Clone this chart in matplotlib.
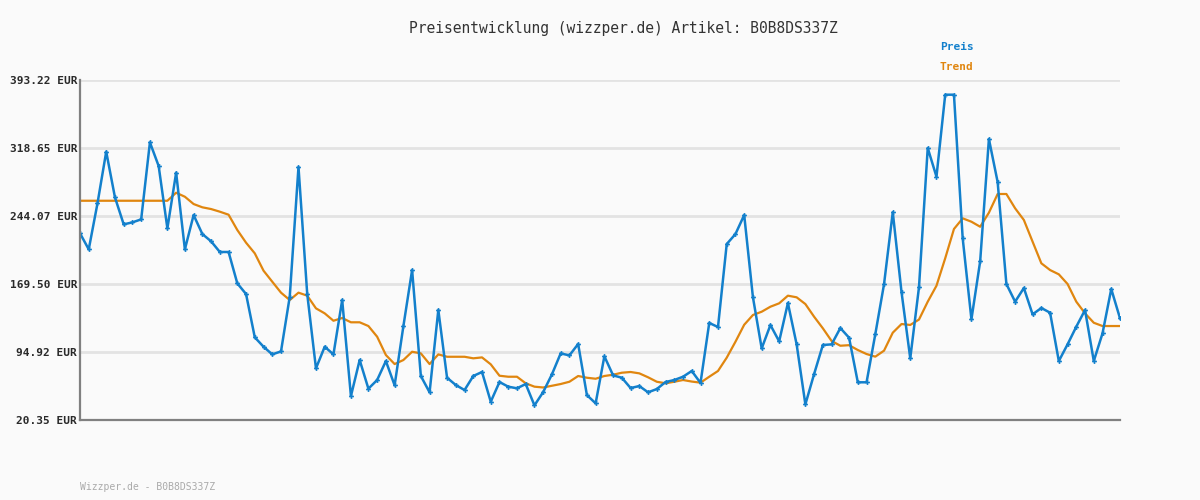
import matplotlib
matplotlib.use("Agg")
import matplotlib.pyplot as plt

title = "Preisentwicklung (wizzper.de) Artikel: B0B8DS337Z"
footer = "Wizzper.de - B0B8DS337Z"
y_ticks = [20.35, 94.92, 169.50, 244.07, 318.65, 393.22]
y_tick_labels = ["20.35 EUR", "94.92 EUR", "169.50 EUR", "244.07 EUR", "318.65 EUR", "393.22 EUR"]

preis = [
    225.1, 207.5, 257.9, 314.6, 264.5, 234.9, 237.1, 240.4, 324.8, 298.9,
    230.5, 291.6, 207.5, 245.1, 224.3, 216.3, 204.6, 204.6, 170.2, 158.5,
    111.0, 100.7, 92.3, 95.6, 155.6, 297.8, 158.5, 77.0, 100.7, 92.3,
    151.9, 46.6, 86.1, 54.7, 64.2, 85.0, 58.4, 123.1, 184.8, 68.6,
    50.7, 141.0, 66.7, 58.7, 53.2, 68.6, 73.0, 40.4, 62.0, 56.9,
    55.1, 59.8, 36.4, 51.0, 70.4, 93.4, 91.2, 103.7, 47.7, 38.6,
    90.2, 69.3, 66.7, 55.4, 57.6, 50.7, 54.3, 62.0, 64.2, 67.8,
    74.1, 61.0, 126.8, 122.3, 213.3, 224.3, 245.1, 154.9, 98.9, 124.5,
    106.6, 148.6, 103.3, 37.5, 70.8, 102.6, 103.3, 121.2, 110.6, 61.7,
    61.7, 114.4, 169.3, 248.2, 160.7, 88.0, 166.0, 318.6, 287.2, 377.1,
    377.1, 219.6, 130.8, 194.4, 328.5, 281.3, 169.5, 150.1, 165.1, 136.2,
    143.2, 138.0, 85.0, 103.3, 122.7, 141.0, 85.0, 115.4, 164.0, 131.9,
]

trend = [
    260.8, 260.8, 260.8, 260.8, 260.8, 260.8, 260.8, 260.8, 260.8, 260.8,
    260.8, 269.6, 265.2, 257.2, 253.6, 251.7, 248.8, 245.5, 228.7, 214.8,
    203.1, 184.1, 172.0, 160.0, 151.9, 160.0, 156.7, 142.8, 137.3, 129.2,
    132.2, 127.5, 127.5, 123.4, 111.7, 91.6, 81.7, 86.1, 95.2, 93.4,
    81.7, 92.3, 89.7, 89.7, 89.7, 88.0, 89.0, 81.4, 68.9, 67.8,
    67.8, 60.6, 56.9, 56.0, 57.9, 59.8, 62.3, 68.6, 66.7, 65.6,
    68.6, 70.0, 72.2, 73.0, 71.5, 67.2, 62.3, 60.6, 62.3, 64.2,
    62.5, 61.3, 67.8, 74.1, 88.7, 106.2, 124.8, 135.5, 139.1, 144.6,
    148.3, 156.7, 154.9, 147.5, 133.6, 120.9, 107.0, 101.8, 102.4, 97.1,
    92.7, 89.8, 96.4, 116.1, 125.6, 124.6, 130.5, 150.1, 167.6, 197.7,
    229.8, 241.5, 237.8, 232.3, 247.7, 268.2, 268.2, 252.5, 239.7, 215.9,
    192.2, 184.8, 180.1, 169.5, 150.1, 137.3, 127.0, 123.4, 123.4, 123.4,
]

bg = "#fafafa"
blue = "#1380cc"
orange = "#e0860f"
mono = "DejaVu Sans Mono"

fig = plt.figure(figsize=(12, 5), dpi=100, facecolor=bg)
ax = fig.add_axes([80 / 1200, 80 / 500, 1040 / 1200, 340 / 500], facecolor=bg)

x = list(range(len(preis)))
ax.plot(x, trend, color=orange, linewidth=1.6, zorder=2)
ax.plot(x, preis, color=blue, linewidth=1.8, marker="P", markersize=3.5,
        markeredgewidth=0, zorder=3)

ax.set_xlim(0, len(preis) - 1)
ax.set_ylim(y_ticks[0], y_ticks[-1])
ax.set_yticks(y_ticks)
ax.set_yticklabels(y_tick_labels, fontfamily=mono, fontsize=8, fontweight="bold",
                   color="#2a2a2a")
ax.set_xticks([])
ax.tick_params(axis="y", length=0, pad=2)
ax.grid(axis="y", color="#e3e3e3", linewidth=2)
ax.set_axisbelow(True)
for s in ["top", "right"]:
    ax.spines[s].set_visible(False)
for s in ["left", "bottom"]:
    ax.spines[s].set_color("#808080")
    ax.spines[s].set_linewidth(1.6)
ax.spines["left"].set_zorder(4)

fig.text(623 / 1200, 1 - 28 / 500, title, ha="center", va="center",
         fontfamily=mono, fontsize=10.5, color="#333333")
fig.text(940 / 1200, 1 - 47 / 500, "Preis", ha="left", va="center",
         fontfamily=mono, fontsize=8, fontweight="bold", color=blue)
fig.text(940 / 1200, 1 - 67 / 500, "Trend", ha="left", va="center",
         fontfamily=mono, fontsize=8, fontweight="bold", color=orange)
fig.text(80 / 1200, 1 - 487 / 500, footer, ha="left", va="center",
         fontfamily=mono, fontsize=7, color="#aaaaaa")

fig.savefig("out.png", dpi=100, facecolor=bg)
